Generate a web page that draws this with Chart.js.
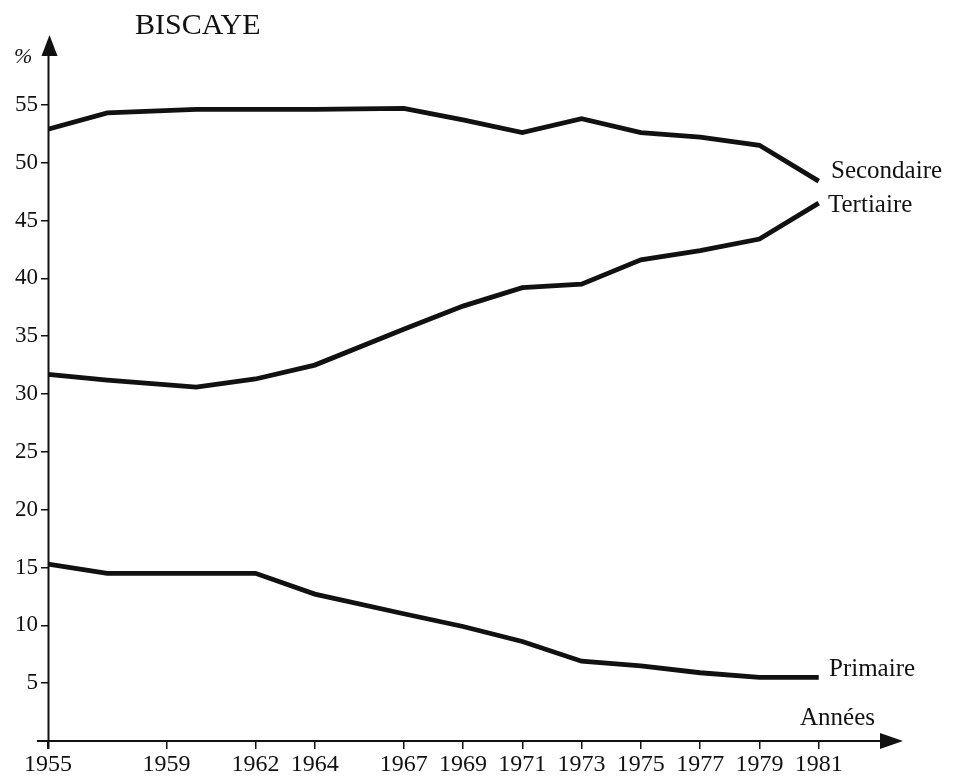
<!DOCTYPE html>
<html>
<head>
<meta charset="utf-8">
<script src="https://cdn.jsdelivr.net/npm/chart.js@4"></script>
<style>
  body { margin: 0; background: #fff; }
  #c { display: block; }
</style>
</head>
<body>
<canvas id="c" width="954" height="780"></canvas>
<script>
// years where the lines change direction
const years = [1955, 1957, 1960, 1962, 1964, 1967, 1969, 1971, 1973, 1975, 1977, 1979, 1981];
const secondaire = [52.9, 54.3, 54.6, 54.6, 54.6, 54.7, 53.7, 52.6, 53.8, 52.6, 52.2, 51.5, 48.4];
const tertiaire = [31.7, 31.2, 30.6, 31.3, 32.5, 35.6, 37.6, 39.2, 39.5, 41.6, 42.4, 43.4, 46.5];
const primaire = [15.3, 14.5, 14.5, 14.5, 12.7, 11.0, 9.9, 8.6, 6.9, 6.5, 5.9, 5.5, 5.5];

const xTicks = [1955, 1959, 1962, 1964, 1967, 1969, 1971, 1973, 1975, 1977, 1979, 1981];
const yTicks = [5, 10, 15, 20, 25, 30, 35, 40, 45, 50, 55];

const serif = "'Liberation Serif', 'Times New Roman', serif";
const ink = "#111";

function toPoints(vals) {
  return years.map((y, i) => ({ x: y, y: vals[i] }));
}

function lineSet(label, vals) {
  return {
    label: label,
    data: toPoints(vals),
    borderColor: ink,
    borderWidth: 4.8,
    pointRadius: 0,
    tension: 0,
    fill: false,
  };
}

// axes with arrows + text labels
const decor = {
  id: "decor",
  afterDraw(chart) {
    const ctx = chart.ctx;
    const a = chart.chartArea;
    const x0 = a.left + 0.5;
    const y0 = a.bottom;
    ctx.save();
    ctx.strokeStyle = ink;
    ctx.fillStyle = ink;
    ctx.lineWidth = 2;

    ctx.beginPath();
    ctx.moveTo(x0, y0 + 8);
    ctx.lineTo(x0, 52);
    ctx.moveTo(37, y0);
    ctx.lineTo(884, y0);
    ctx.stroke();

    ctx.beginPath();
    ctx.moveTo(x0 + 1, 35);
    ctx.lineTo(x0 - 7, 56);
    ctx.lineTo(x0 + 9, 56);
    ctx.closePath();
    ctx.fill();

    ctx.beginPath();
    ctx.moveTo(903, y0);
    ctx.lineTo(880, y0 - 8);
    ctx.lineTo(880, y0 + 8);
    ctx.closePath();
    ctx.fill();

    ctx.textBaseline = "middle";
    ctx.textAlign = "left";
    ctx.font = "30px " + serif;
    ctx.fillText("BISCAYE", 135, 26);
    ctx.font = "italic 22px " + serif;
    ctx.fillText("%", 14, 57);
    ctx.font = "25px " + serif;
    ctx.fillText("Secondaire", 831, 171);
    ctx.fillText("Tertiaire", 828, 205);
    ctx.fillText("Primaire", 829, 669);
    ctx.fillText("Années", 800, 718);
    ctx.restore();
  },
};

const chart = new Chart(document.getElementById("c"), {
  type: "line",
  data: {
    datasets: [
      lineSet("Secondaire", secondaire),
      lineSet("Tertiaire", tertiaire),
      lineSet("Primaire", primaire),
    ],
  },
  options: {
    responsive: false,
    animation: false,
    layout: { padding: { top: 47, right: 76, left: 0, bottom: 0 } },
    plugins: {
      legend: { display: false },
      tooltip: { enabled: false },
    },
    scales: {
      x: {
        type: "linear",
        min: 1955,
        max: 1983,
        afterBuildTicks: (s) => { s.ticks = xTicks.map((v) => ({ value: v })); },
        afterFit: (s) => { s.height = 39; },
        border: { display: false },
        grid: { drawOnChartArea: false, drawTicks: true, tickLength: 8, color: ink, lineWidth: 1.5 },
        ticks: {
          color: ink,
          font: { family: serif, size: 24 },
          padding: 1,
          maxRotation: 0,
          autoSkip: false,
          callback: (v) => String(v),
        },
      },
      y: {
        min: 0,
        max: 60,
        afterBuildTicks: (s) => { s.ticks = yTicks.map((v) => ({ value: v })); },
        afterFit: (s) => { s.width = 48; },
        border: { display: false },
        grid: { drawOnChartArea: false, drawTicks: true, tickLength: 7, color: ink, lineWidth: 1.5 },
        ticks: {
          color: ink,
          font: { family: serif, size: 23 },
          padding: 3,
        },
      },
    },
  },
  plugins: [decor],
});
</script>
</body>
</html>
